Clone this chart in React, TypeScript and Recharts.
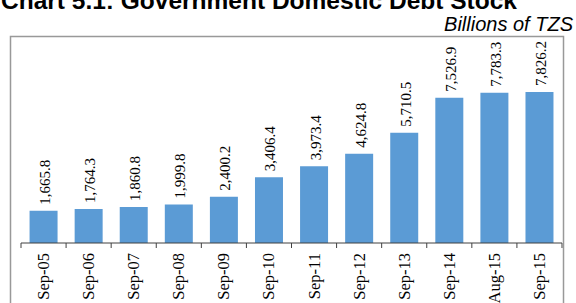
import { Bar, BarChart, LabelList, XAxis, YAxis } from "recharts";

const periods = [
  "Sep-05", "Sep-06", "Sep-07", "Sep-08", "Sep-09", "Sep-10",
  "Sep-11", "Sep-12", "Sep-13", "Sep-14", "Aug-15", "Sep-15",
];
const debtStock = [
  1665.8, 1764.3, 1860.8, 1999.8, 2400.2, 3406.4,
  3973.4, 4624.8, 5710.5, 7526.9, 7783.3, 7826.2,
];

const data = periods.map((p, i) => ({ period: p, value: debtStock[i] }));

const W = 576;
const H = 303;
const LEFT = 21;
const RIGHT = 14;
const BAND = (W - LEFT - RIGHT) / periods.length;
const SERIF = "'Liberation Serif', 'Times New Roman', serif";
const SANS = "'Liberation Sans', Arial, sans-serif";
const AXIS_COLOR = "#404040";

const fmt = (v: number) =>
  v.toLocaleString("en-US", { minimumFractionDigits: 1, maximumFractionDigits: 1 });

const PeriodTick = (props: any) => {
  const { x, y, payload, index } = props;
  const half = BAND / 2;
  return (
    <g>
      <line x1={x - half} x2={x - half} y1={y} y2={y + 5} stroke={AXIS_COLOR} />
      {index === periods.length - 1 && (
        <line x1={x + half} x2={x + half} y1={y} y2={y + 5} stroke={AXIS_COLOR} />
      )}
      <text
        transform={`translate(${x + 5.5},${y + 10}) rotate(-90)`}
        textAnchor="end"
        fontSize={16.5}
        fontFamily={SERIF}
        fill="#000"
      >
        {payload.value}
      </text>
    </g>
  );
};

const ValueLabel = (props: any) => {
  const { x, y, width, value } = props;
  return (
    <text
      transform={`translate(${x + width / 2 + 6.5},${y - 6}) rotate(-90)`}
      textAnchor="start"
      fontSize={15}
      fontFamily={SERIF}
      fill="#000"
    >
      {fmt(value)}
    </text>
  );
};

export default function App() {
  return (
    <div style={{ position: "absolute", left: 0, top: 0, width: W, height: H, background: "#fff", overflow: "hidden" }}>
      <BarChart
        width={W}
        height={H}
        data={data}
        margin={{ top: 50, right: RIGHT, bottom: 0, left: LEFT }}
        barCategoryGap="19%"
      >
        <XAxis
          dataKey="period"
          height={60}
          interval={0}
          tickLine={false}
          tickSize={0}
          tickMargin={0}
          axisLine={{ stroke: AXIS_COLOR }}
          tick={<PeriodTick />}
        />
        <YAxis hide domain={[0, 10000]} />
        <Bar dataKey="value" fill="#5B9BD5" isAnimationActive={false}>
          <LabelList dataKey="value" content={<ValueLabel />} />
        </Bar>
      </BarChart>
      <svg
        width={W}
        height={H}
        style={{ position: "absolute", left: 0, top: 0, pointerEvents: "none" }}
      >
        <text x={1} y={9} fontSize={24.5} fontWeight="bold" fontFamily={SANS} fill="#000">
          Chart 5.1: Government Domestic Debt Stock
        </text>
        <text x={573} y={31} textAnchor="end" fontSize={20} fontStyle="italic" fontFamily={SANS} fill="#000">
          Billions of TZS
        </text>
        <rect x={10.5} y={36.5} width={553} height={H} fill="none" stroke="#999" strokeWidth={1.5} />
      </svg>
    </div>
  );
}
